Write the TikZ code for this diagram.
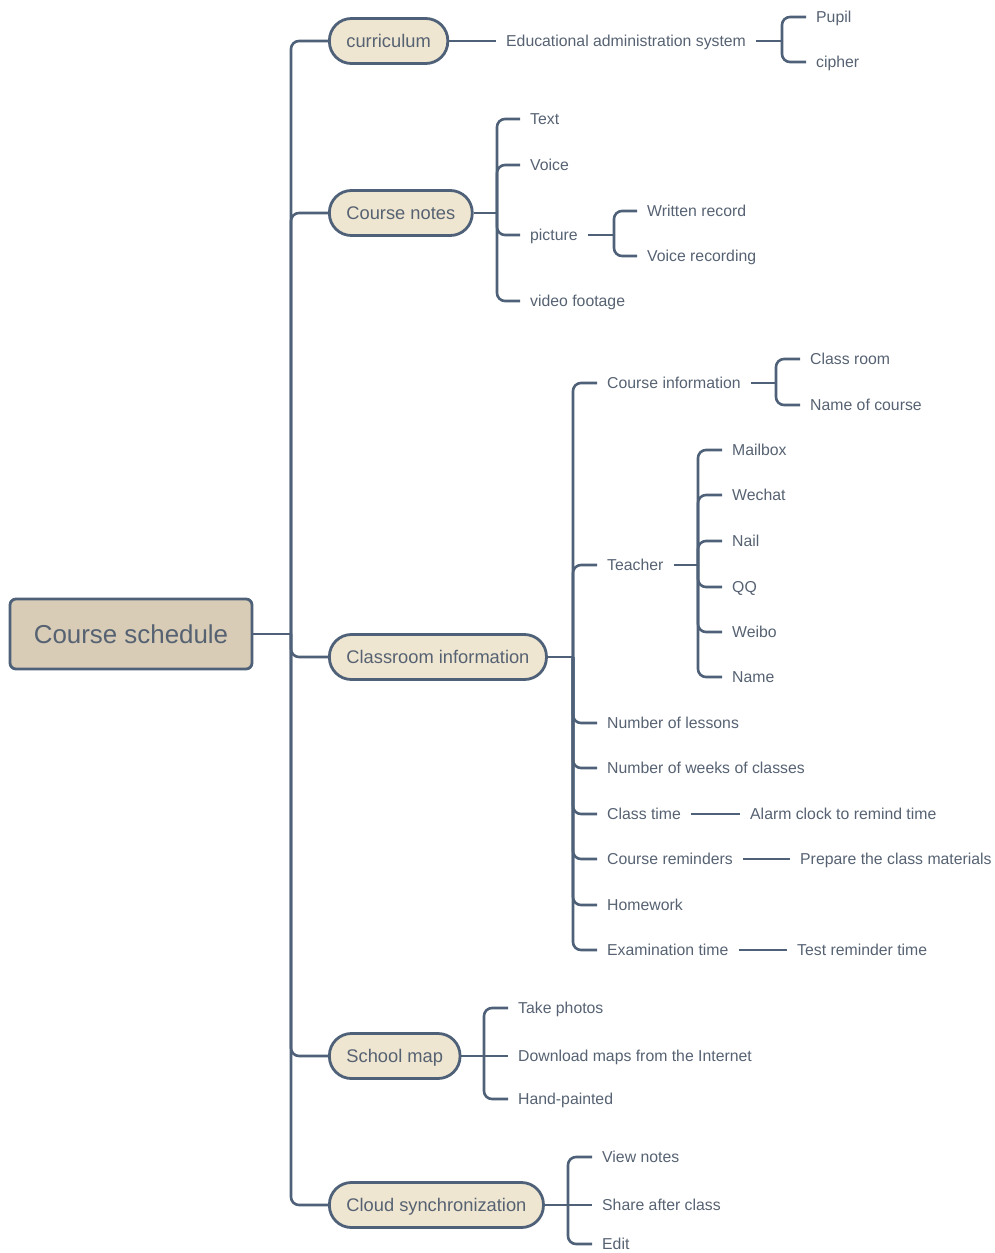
\documentclass[tikz,border=0pt]{standalone}
\usepackage{fontspec}
\setmainfont{Liberation Sans}
\definecolor{linecol}{HTML}{4E6178}
\definecolor{txtcol}{HTML}{566272}
\definecolor{rootfill}{HTML}{D8CCB6}
\definecolor{pillfill}{HTML}{EFE6D1}

\begin{document}
\begin{tikzpicture}[x=1pt, y=-1pt,
  link/.style={draw=linecol, line width=2.6pt, rounded corners=8pt},
  rootbox/.style={draw=linecol, line width=2.8pt, fill=rootfill, rounded corners=6pt,
    minimum width=242pt, minimum height=70pt, text height=18.5pt, text depth=0pt,
    text=txtcol, font=\fontsize{25.9}{30}\selectfont},
  pill/.style={draw=linecol, line width=2.8pt, fill=pillfill, rounded corners=22pt,
    minimum height=45pt, inner xsep=17pt, anchor=west, text height=13.1pt, text depth=0pt,
    text=txtcol, font=\fontsize{18.3}{22}\selectfont},
  leaf/.style={anchor=west, inner xsep=10pt, inner ysep=0pt, text height=12pt, text depth=1pt,
    text=txtcol, font=\fontsize{15.8}{19}\selectfont}]
  \useasboundingbox (0,0) rectangle (995,1253);

  % root and main branches
  \node[rootbox] (root) at (131,634) {Course schedule};
  \coordinate (trunk) at (291,634);
  \node[pill] (curr)  at (328,41)   {curriculum};
  \node[pill] (notes) at (328,213)  {Course notes};
  \node[pill] (room)  at (328,657)  {Classroom information};
  \node[pill] (map)   at (328,1056) {School map};
  \node[pill] (cloud) at (328,1205) {Cloud synchronization};
  \draw[link] (root.east) -- (trunk);
  \foreach \b in {curr,notes,room,map,cloud} \draw[link] (trunk) |- (\b.west);

  % curriculum
  \node[leaf] (eas)    at (496,41) {Educational administration system};
  \coordinate (easb) at (782,41);
  \node[leaf] (pupil)  at (806,17) {Pupil};
  \node[leaf] (cipher) at (806,62) {cipher};
  \draw[link] (curr.east) -- (eas.west);
  \draw[link] (eas.east) -- (easb);
  \foreach \c in {pupil,cipher} \draw[link] (easb) |- (\c.west);

  % course notes
  \coordinate (notesb) at (497,213);
  \node[leaf] (text)  at (520,119) {Text};
  \node[leaf] (voice) at (520,165) {Voice};
  \node[leaf] (pic)   at (520,235) {picture};
  \node[leaf] (video) at (520,301) {video footage};
  \draw[link] (notes.east) -- (notesb);
  \foreach \c in {text,voice,pic,video} \draw[link] (notesb) |- (\c.west);
  \coordinate (picb) at (614,235);
  \node[leaf] (written) at (637,211) {Written record};
  \node[leaf] (vrec)    at (637,256) {Voice recording};
  \draw[link] (pic.east) -- (picb);
  \foreach \c in {written,vrec} \draw[link] (picb) |- (\c.west);

  % classroom information
  \coordinate (roomb) at (573,657);
  \node[leaf] (cinfo)    at (597,383) {Course information};
  \node[leaf] (teacher)  at (597,565) {Teacher};
  \node[leaf] (lessons)  at (597,723) {Number of lessons};
  \node[leaf] (weeks)    at (597,768) {Number of weeks of classes};
  \node[leaf] (ctime)    at (597,814) {Class time};
  \node[leaf] (remind)   at (597,859) {Course reminders};
  \node[leaf] (homework) at (597,905) {Homework};
  \node[leaf] (exam)     at (597,950) {Examination time};
  \draw[link] (room.east) -- (roomb);
  \foreach \c in {cinfo,teacher,lessons,weeks,ctime,remind,homework,exam}
    \draw[link] (roomb) |- (\c.west);

  \coordinate (cinfob) at (776,383);
  \node[leaf] (croom) at (800,359) {Class room};
  \node[leaf] (cname) at (800,405) {Name of course};
  \draw[link] (cinfo.east) -- (cinfob);
  \foreach \c in {croom,cname} \draw[link] (cinfob) |- (\c.west);

  \coordinate (teachb) at (698,565);
  \node[leaf] (mailbox) at (722,450) {Mailbox};
  \node[leaf] (wechat)  at (722,495) {Wechat};
  \node[leaf] (nail)    at (722,541) {Nail};
  \node[leaf] (qq)      at (722,587) {QQ};
  \node[leaf] (weibo)   at (722,632) {Weibo};
  \node[leaf] (tname)   at (722,677) {Name};
  \draw[link] (teacher.east) -- (teachb);
  \foreach \c in {mailbox,wechat,nail,qq,weibo,tname} \draw[link] (teachb) |- (\c.west);

  \node[leaf] (alarm)   at (740,814) {Alarm clock to remind time};
  \node[leaf] (prepare) at (790,859) {Prepare the class materials};
  \node[leaf] (test)    at (787,950) {Test reminder time};
  \draw[link] (ctime.east) -- (alarm.west);
  \draw[link] (remind.east) -- (prepare.west);
  \draw[link] (exam.east) -- (test.west);

  % school map
  \coordinate (mapb) at (484,1056);
  \node[leaf] (photos)   at (508,1008) {Take photos};
  \node[leaf] (download) at (508,1056) {Download maps from the Internet};
  \node[leaf] (hand)     at (508,1099) {Hand-painted};
  \draw[link] (map.east) -- (download.west);
  \foreach \c in {photos,hand} \draw[link] (mapb) |- (\c.west);

  % cloud synchronization
  \coordinate (cloudb) at (568,1205);
  \node[leaf] (view)  at (592,1157) {View notes};
  \node[leaf] (share) at (592,1205) {Share after class};
  \node[leaf] (edit)  at (592,1244) {Edit};
  \draw[link] (cloud.east) -- (share.west);
  \foreach \c in {view,edit} \draw[link] (cloudb) |- (\c.west);
\end{tikzpicture}
\end{document}
